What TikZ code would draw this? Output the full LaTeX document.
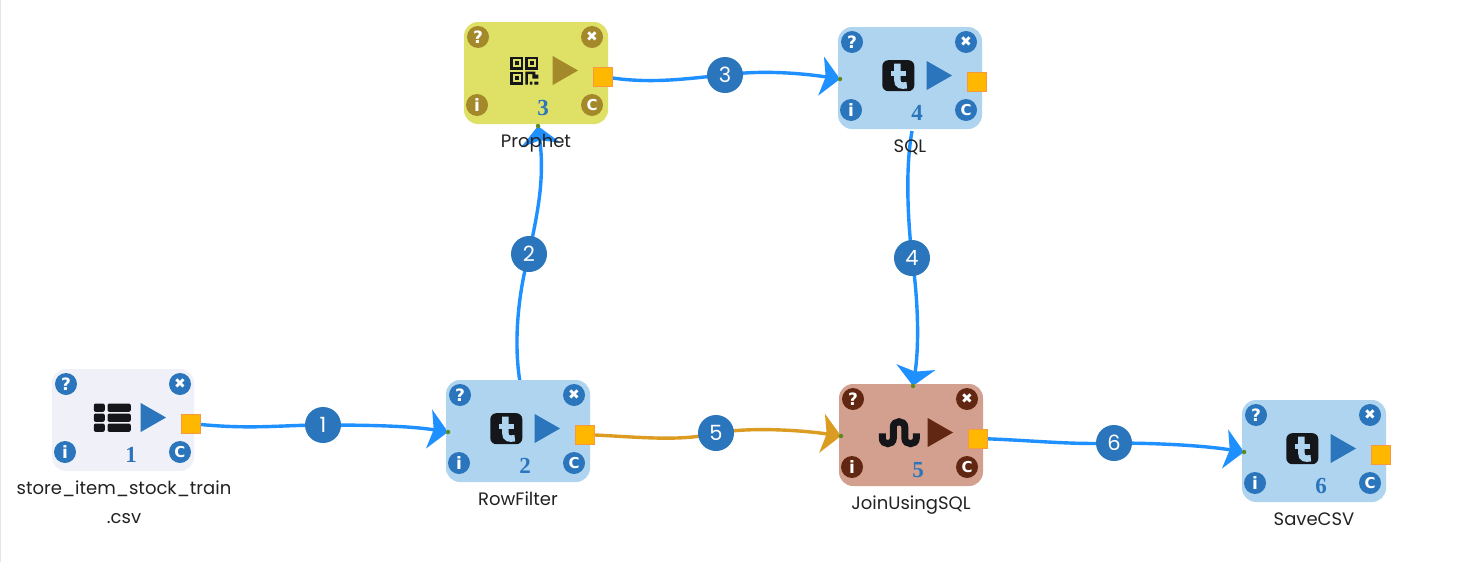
\documentclass[tikz,border=0pt]{standalone}
\usepackage{fontspec}
\setmainfont{Poppins}
\newfontfamily\iconfont{DejaVu Sans}
\newfontfamily\numfont{Liberation Serif}
\usetikzlibrary{arrows.meta}
\pgfdeclarelayer{edges}
\pgfsetlayers{edges,main}
\definecolor{accblue}{HTML}{2A75BB}
\definecolor{accolive}{HTML}{A3892A}
\definecolor{accbrown}{HTML}{622712}
\definecolor{fillpale}{HTML}{EFF0F8}
\definecolor{fillblue}{HTML}{AED4F0}
\definecolor{fillyellow}{HTML}{DFE066}
\definecolor{fillbrown}{HTML}{D3A08F}
\definecolor{edgeblue}{HTML}{1E90FF}
\definecolor{edgeorange}{HTML}{DC9C22}
\definecolor{portfill}{HTML}{FFB700}
\definecolor{portline}{HTML}{F79A3E}
\definecolor{dotgreen}{HTML}{5A8A20}
\definecolor{iconblack}{HTML}{14161A}
\definecolor{labeltext}{HTML}{222222}
\tikzset{
  blockbox/.style={inner sep=0pt,minimum height=102pt,rounded corners=14pt},
  btn/.style={circle,inner sep=0pt,minimum size=22pt,text=white,font=\iconfont\bfseries\fontsize{17}{17}\selectfont},
  portbox/.style={inner sep=0pt,minimum size=19pt,fill=portfill,draw=portline,line width=.8pt},
  dotin/.style={circle,inner sep=0pt,minimum size=4.5pt,fill=dotgreen},
  numtext/.style={text=accblue,inner sep=0pt,font=\numfont\bfseries\fontsize{23}{23}\selectfont},
  lbl/.style={anchor=base,inner sep=0pt,text=labeltext,font=\fontsize{18}{20}\selectfont},
  flowlabel/.style={circle,inner sep=0pt,minimum size=36pt,fill=accblue,text=white,font=\fontsize{21}{21}\selectfont},
  flow/.style={line width=3.4pt,edgeblue,-{Stealth[length=19pt,width=39pt,inset=4.5pt]}},
  floworange/.style={flow,edgeorange}
}
\newcommand\iconlistglyph{%
  \foreach \yy in {-10,0,10}{
    \fill[iconblack,rounded corners=2pt] (-18.5,\yy-4.2) rectangle (-7.5,\yy+4.2);
    \fill[iconblack,rounded corners=2pt] (-4.8,\yy-4.2) rectangle (18.5,\yy+4.2);
  }}
\newcommand\finder[2]{%
  \fill[iconblack] (#1-6.5,#2-6.5) rectangle (#1+6.5,#2+6.5);
  \fill[fillyellow] (#1-4,#2-4) rectangle (#1+4,#2+4);
  \fill[iconblack] (#1-2,#2-2) rectangle (#1+2,#2+2);}
\newcommand\iconqrglyph{%
  \finder{-7.5}{-7.5}\finder{7.5}{-7.5}\finder{-7.5}{7.5}
  \fill[iconblack] (1,1) rectangle (8,3.5) (1,3) rectangle (3.5,14) (8,1) rectangle (11,8) (11,4) rectangle (14,8) (5.5,11) rectangle (8,14) (10,11) rectangle (14,14);}
\newcommand\icontumblrglyph{%
  \fill[iconblack,rounded corners=6pt] (-16,-15.5) rectangle (16,15.5);
  \draw[fillblue,line width=6.5pt] (-1,-12) -- (-1,4) .. controls (-1,10) and (3,10.5) .. (8.5,9.5);
  \draw[fillblue,line width=5.5pt] (-7.3,-2) -- (7.7,-2);}
\newcommand\iconstumbleglyph{%
  \draw[iconblack,line width=7pt] (-17,0.7) -- (-17,5.5) .. controls (-17,12.8) and (-6,12.8) .. (-6,5.5) -- (-6,-5.5) .. controls (-6,-12.8) and (5.5,-12.8) .. (5.5,-5.5) -- (5.5,5.5) .. controls (5.5,12.8) and (17,12.8) .. (17,5.5) -- (17,0.7);}
% name, x, y, fill, accent, icon, number, label
\newcommand\flowblock[8]{%
  \begin{scope}[shift={(#2,#3)}]
    \node[blockbox,fill=#4,minimum width=\bw pt] (#1) at (\bw/2,51) {};
    \node[btn,fill=#5] (#1-help) at (14,15) {?};
    \node[btn,fill=#5,font=\iconfont\fontsize{14}{14}\selectfont] (#1-close) at (128,15) {✖};
    \node[btn,fill=#5] (#1-info) at (13,83) {i};
    \node[btn,fill=#5,font=\iconfont\bfseries\fontsize{15}{15}\selectfont] (#1-conf) at (128,83) {C};
    \begin{scope}[shift={(60.3,48.7)}] #6 \end{scope}
    \fill[#5] (88.7,34) -- (114,48.5) -- (88.7,63) -- cycle;
    \node[numtext] (#1-num) at (79,86) {#7};
    \node[lbl] (#1-label) at (72,125.7) {#8};
    \node[portbox] (#1-out) at (139,54.5) {};
    \coordinate (#1-in) at (2,52);
    \coordinate (#1-top) at (74,2);
    \coordinate (#1-bot) at (74,104);
  \end{scope}}
\begin{document}
\begin{tikzpicture}[x=1pt,y=-1pt]
\useasboundingbox (0,0) rectangle (1458,562);
\begin{pgfonlayer}{edges}
\fill[white] (0,0) rectangle (1458,562);
\draw[black!10,line width=1pt] (0.5,0) -- (0.5,562);
\end{pgfonlayer}
\def\bw{142}
\flowblock{b1}{52}{369}{fillpale}{accblue}{\iconlistglyph}{1}{store\_item\_stock\_train}
\node[lbl] (b1-label2) at (124,523) {.csv};
\def\bw{144}
\flowblock{b2}{446}{380}{fillblue}{accblue}{\icontumblrglyph}{2}{RowFilter}
\flowblock{b3}{464}{22}{fillyellow}{accolive}{\iconqrglyph}{3}{Prophet}
\flowblock{b4}{838}{27}{fillblue}{accblue}{\icontumblrglyph}{4}{SQL}
\flowblock{b5}{839}{384}{fillbrown}{accbrown}{\iconstumbleglyph}{5}{JoinUsingSQL}
\flowblock{b6}{1242}{400}{fillblue}{accblue}{\icontumblrglyph}{6}{SaveCSV}
\node[dotin] (d2) at (b2-in) {};
\node[dotin] (d3) at (b3-bot) {};
\node[dotin] (d4) at (b4-in) {};
\node[dotin] (d5a) at (b5-in) {};
\node[dotin] (d5b) at (b5-top) {};
\node[dotin] (d6) at (b6-in) {};
\node[flowlabel] (l1) at (323,425) {1};
\node[flowlabel] (l2) at (529,254) {2};
\node[flowlabel] (l3) at (725,75) {3};
\node[flowlabel] (l4) at (912,258) {4};
\node[flowlabel] (l5) at (716,433) {5};
\node[flowlabel] (l6) at (1114,443) {6};
\begin{pgfonlayer}{edges}
\draw[flow] (b1-out.center) .. controls (250,430) and (280,425) .. (l1.center) .. controls (370,425) and (410,426) .. (b2-in);
\draw[flow] (b2-top) .. controls (513,340) and (519,290) .. (l2.center) .. controls (537,215) and (545,180) .. (b3-bot);
\draw[flow] (b3-out.center) .. controls (650,85) and (690,78) .. (l3.center) .. controls (760,70) and (800,73) .. (b4-in);
\draw[flow] (b4-bot) .. controls (905,170) and (908,220) .. (l4.center) .. controls (917,290) and (920,340) .. (b5-top);
\draw[floworange] (b2-out.center) .. controls (640,437) and (680,442) .. (l5.center) .. controls (750,427) and (800,430) .. (b5-in);
\draw[flow] (b5-out.center) .. controls (1030,440) and (1070,445) .. (l6.center) .. controls (1150,443) and (1200,445) .. (b6-in);
\end{pgfonlayer}
\end{tikzpicture}
\end{document}
